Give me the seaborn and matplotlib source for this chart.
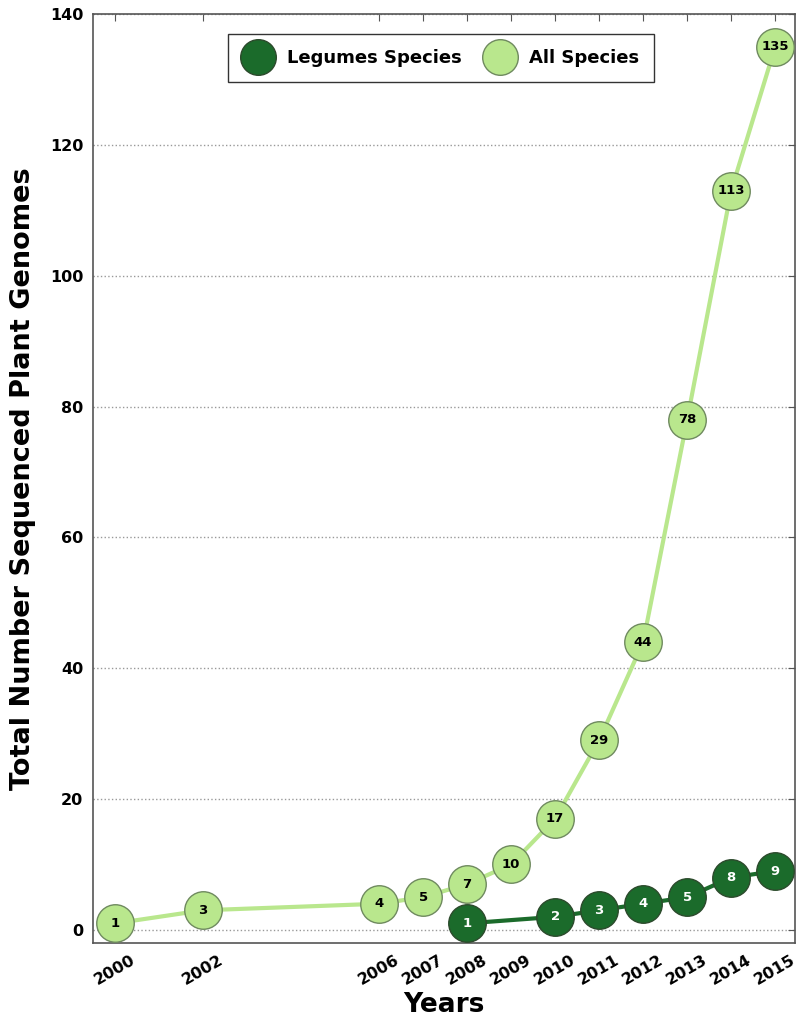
import matplotlib
matplotlib.use("Agg")
import matplotlib.pyplot as plt
import seaborn as sns
import pandas as pd

# Cumulative counts of sequenced plant genomes per year
all_years = [2000, 2002, 2006, 2007, 2008, 2009, 2010, 2011, 2012, 2013, 2014, 2015]
all_counts = [1, 3, 4, 5, 7, 10, 17, 29, 44, 78, 113, 135]
legume_years = [2008, 2010, 2011, 2012, 2013, 2014, 2015]
legume_counts = [1, 2, 3, 4, 5, 8, 9]
tick_years = [2000, 2002, 2006, 2007, 2008, 2009, 2010, 2011, 2012, 2013, 2014, 2015]
y_ticks = [0, 20, 40, 60, 80, 100, 120, 140]

dark_green = "#1b6b2b"
light_green = "#b9e78d"

sns.set_style("white")
plt.rcParams["font.family"] = ["DejaVu Sans"]
plt.rcParams["font.weight"] = "bold"
plt.rcParams["text.color"] = "black"
plt.rcParams["axes.labelcolor"] = "black"

fig = plt.figure(figsize=(7.99, 10.22), dpi=100)
ax = fig.add_axes([0.1164, 0.0773, 0.8786, 0.909])

df_all = pd.DataFrame({"year": all_years, "count": all_counts})
df_leg = pd.DataFrame({"year": legume_years, "count": legume_counts})

sns.lineplot(data=df_all, x="year", y="count", ax=ax, color=light_green,
             linewidth=3, marker="o", markersize=27, markerfacecolor=light_green,
             markeredgecolor="#6f8a5f", markeredgewidth=1.0, label="All Species",
             zorder=3)
sns.lineplot(data=df_leg, x="year", y="count", ax=ax, color=dark_green,
             linewidth=3, marker="o", markersize=27, markerfacecolor=dark_green,
             markeredgecolor="#2c4a2c", markeredgewidth=1.0, label="Legumes Species",
             zorder=4)

for x, y in zip(all_years, all_counts):
    ax.text(x, y, str(y), ha="center", va="center", fontsize=9.5,
            fontweight="bold", color="black", zorder=6)
for x, y in zip(legume_years, legume_counts):
    ax.text(x, y, str(y), ha="center", va="center", fontsize=9.5,
            fontweight="bold", color="white", zorder=6)

ax.set_xlim(1999.5, 2015.45)
ax.set_ylim(-2, 140)
ax.set_xticks(tick_years)
ax.set_xticklabels([str(t) for t in tick_years], rotation=30, fontsize=11.5,
                   fontweight="bold")
ax.set_yticks(y_ticks)
ax.set_yticklabels([str(t) for t in y_ticks], fontsize=11.5, fontweight="bold")
ax.tick_params(direction="in", length=5, width=0.8, top=True, right=True,
               colors="#555555", labelcolor="black", pad=7)

ax.yaxis.grid(True, linestyle=":", color="#999999", linewidth=1.0)
ax.xaxis.grid(False)
for s in ax.spines.values():
    s.set_color("#555555")
    s.set_linewidth(1.2)

ax.set_xlabel("Years", fontsize=19, fontweight="bold", labelpad=3)
ax.set_ylabel("Total Number Sequenced Plant Genomes", fontsize=19.5,
              fontweight="bold", labelpad=10)

handles, labels = ax.get_legend_handles_labels()
order = [labels.index("Legumes Species"), labels.index("All Species")]
leg = ax.legend([handles[i] for i in order], [labels[i] for i in order],
                loc="upper center", ncol=2, frameon=True, fancybox=False,
                prop={"weight": "bold", "size": 13},
                borderpad=0.85, handlelength=1.6, columnspacing=1.3,
                bbox_to_anchor=(0.496, 0.9885), markerscale=0.95)
for h in leg.legend_handles:
    h.set_linestyle("")
leg.get_frame().set_edgecolor("black")
leg.get_frame().set_linewidth(1.0)

fig.savefig("out.png", dpi=100)
